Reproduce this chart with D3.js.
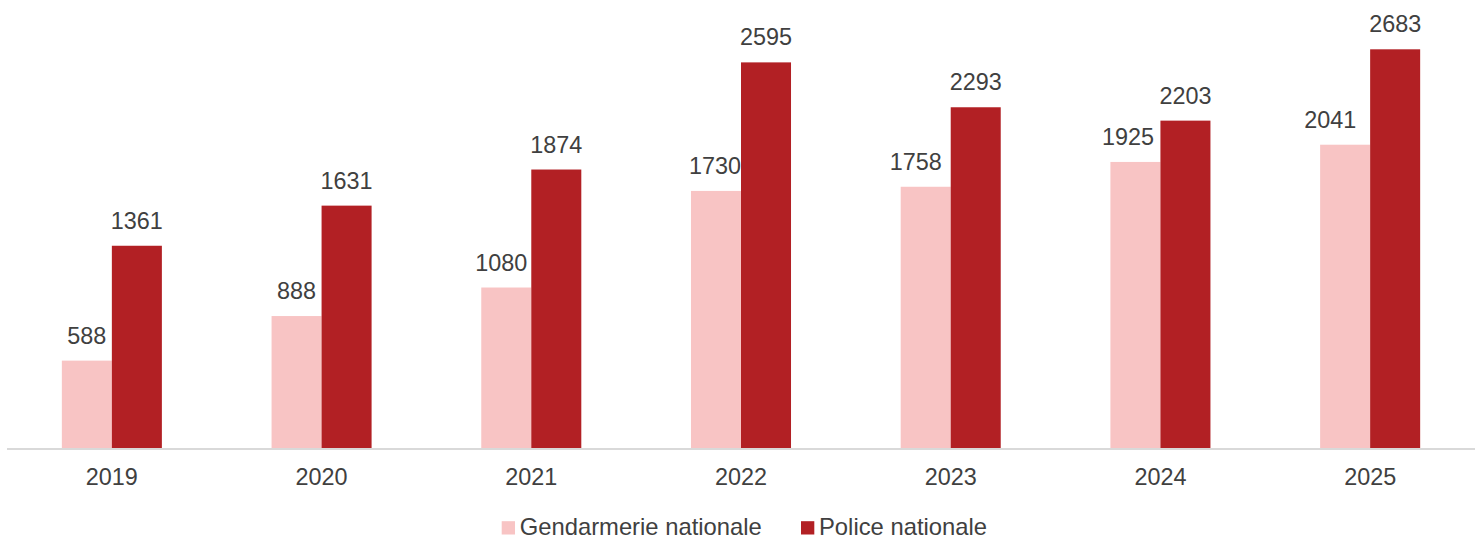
<!DOCTYPE html>
<html>
<head>
<meta charset="utf-8">
<script src="https://cdn.jsdelivr.net/npm/d3@7"></script>
<style>
  html, body { margin: 0; padding: 0; background: #ffffff; }
  svg { display: block; font-family: "Liberation Sans", Arial, sans-serif; }
</style>
</head>
<body>
<script>
const years = ["2019", "2020", "2021", "2022", "2023", "2024", "2025"];
const seriesNames = ["Gendarmerie nationale", "Police nationale"];
const gendarmerie = [588, 888, 1080, 1730, 1758, 1925, 2041];
const police = [1361, 1631, 1874, 2595, 2293, 2203, 2683];
const colors = ["#F8C4C4", "#B22024"];

const W = 1478, H = 538;
const FS = 23.4;
// horizontal nudges of the gendarmerie value labels (as in the reference)
const gLabelNudge = [0, 0, -5, -1, -10, -7.5, -15];

const svg = d3.select("body").append("svg").attr("width", W).attr("height", H);

const baseY = 448;
const x0 = d3.scaleBand().domain(years).range([7, 1475]).paddingInner(0.523).paddingOuter(0.2615);
const x1 = d3.scaleBand().domain(seriesNames).range([0, x0.bandwidth()]);
const y = d3.scaleLinear().domain([0, 3000]).range([baseY, baseY - 3000 * 0.1486]);

const valuesBySeries = [gendarmerie, police];
const rows = years.map((yr, i) => ({ year: yr, vals: seriesNames.map((s, k) => ({ s, k, i, v: valuesBySeries[k][i] })) }));

// axis line
const xAxis = d3.axisBottom(x0).tickSize(0).tickPadding(20);
const ax = svg.append("g").attr("transform", `translate(0,${baseY})`).call(xAxis);
ax.select(".domain").attr("stroke", "#d9d9d9").attr("stroke-width", 2).attr("d", `M7,1H1475`);
ax.selectAll(".tick text").attr("font-size", FS).attr("fill", "#404040")
  .attr("font-family", "'Liberation Sans', Arial, sans-serif").attr("dy", "0.71em");

const g = svg.append("g").selectAll("g").data(rows).join("g")
  .attr("transform", d => `translate(${x0(d.year)},0)`);

g.selectAll("rect").data(d => d.vals).join("rect")
  .attr("x", d => x1(d.s))
  .attr("y", d => y(d.v))
  .attr("width", x1.bandwidth())
  .attr("height", d => y(0) - y(d.v))
  .attr("fill", d => colors[d.k]);

g.selectAll("text.lbl").data(d => d.vals).join("text")
  .attr("class", "lbl")
  .attr("x", d => x1(d.s) + x1.bandwidth() / 2 + (d.k === 0 ? gLabelNudge[d.i] : 0))
  .attr("y", d => y(d.v) - 17)
  .attr("text-anchor", "middle")
  .attr("font-size", FS)
  .attr("fill", "#404040")
  .text(d => d.v);

// legend
const legY = 534.5;
const leg = svg.append("g");
const legX = [501.7, 801];
seriesNames.forEach((s, k) => {
  leg.append("rect").attr("x", legX[k]).attr("y", legY - 13.3).attr("width", 13.3).attr("height", 13.3).attr("fill", colors[k]);
  leg.append("text").attr("x", legX[k] + 18).attr("y", legY).attr("font-size", FS + 0.4).attr("fill", "#404040").text(s);
});
</script>
</body>
</html>
